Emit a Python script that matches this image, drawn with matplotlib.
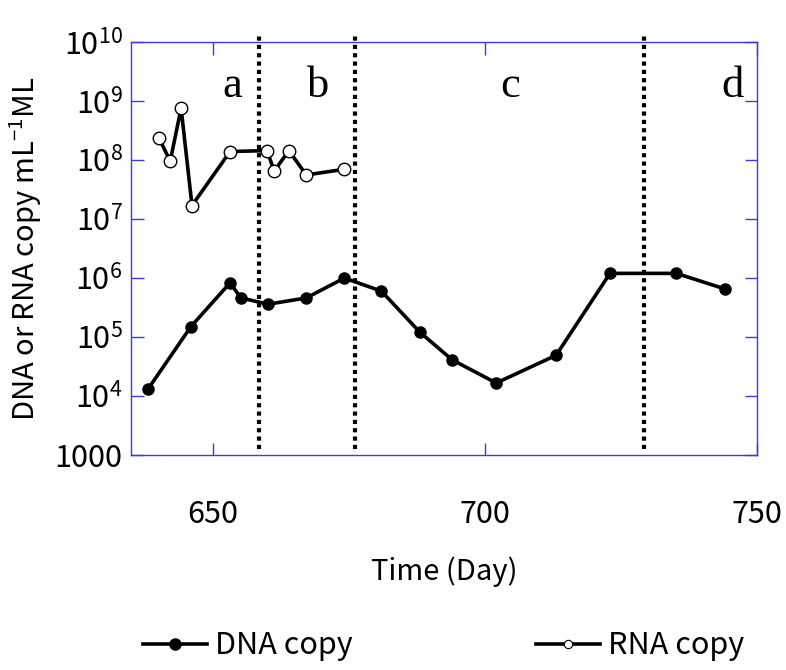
import math
import matplotlib
matplotlib.use("Agg")
import matplotlib.pyplot as plt
from matplotlib.lines import Line2D
from matplotlib.ticker import FixedLocator, FuncFormatter, NullLocator

# DNA copies
dna_day = [638.1, 646.0, 653.2, 655.2, 660.2, 667.2, 674.2, 681.0, 688.1, 694.0, 702.1, 713.1, 723.0, 735.2, 744.2]
dna_copy = [1.3e4, 1.5e5, 8.3e5, 4.6e5, 3.6e5, 4.6e5, 1.0e6, 6.0e5, 1.2e5, 4.1e4, 1.66e4, 4.9e4, 1.2e6, 1.2e6, 6.5e5]

# RNA copies
rna_day = [640.1, 642.2, 644.2, 646.2, 653.2, 660.0, 661.3, 664.0, 667.2, 674.2]
rna_copy = [2.4e8, 9.6e7, 7.6e8, 1.7e7, 1.4e8, 1.45e8, 6.5e7, 1.45e8, 5.6e7, 7.0e7]

# phase boundaries and labels
phase_day = [658.5, 676.2, 729.3]
phase_lbl = ["a", "b", "c", "d"]
phase_lbl_day = [653.6, 669.4, 704.7, 745.6]

xticks = [650, 700, 750]
yticks = [1e3, 1e4, 1e5, 1e6, 1e7, 1e8, 1e9, 1e10]

plt.rcParams["font.family"] = ["Noto Sans CJK JP", "DejaVu Sans"]
plt.rcParams["mathtext.fontset"] = "custom"
plt.rcParams["mathtext.rm"] = "Noto Sans CJK JP"
plt.rcParams["mathtext.it"] = "Noto Sans CJK JP"

blue = "#3a3ae8"

fig = plt.figure(figsize=(7.86, 6.70), dpi=100)
ax = fig.add_axes([0.1667, 0.321, 0.7963, 0.616])

ax.plot(dna_day, dna_copy, color="black", lw=2.6, marker="o", ms=8,
        mfc="black", mec="black", zorder=3)
ax.plot(rna_day, rna_copy, color="black", lw=2.6, marker="o", ms=9,
        mfc="white", mec="black", mew=1.0, zorder=3)

for d in phase_day:
    ax.plot([d, d], [1.25e3, 1.3e10], color="black", lw=3, ls=(0, (1, 1)),
            clip_on=False, zorder=2)

for d, s in zip(phase_lbl_day, phase_lbl):
    ax.text(d, 1.8e9, s, ha="center", va="center", fontsize=32,
            family="Liberation Serif")

ax.set_yscale("log")
ax.set_xlim(635, 750)
ax.set_ylim(1e3, 1e10)

ax.xaxis.set_major_locator(FixedLocator(xticks))
ax.yaxis.set_major_locator(FixedLocator(yticks))
ax.yaxis.set_minor_locator(NullLocator())
ax.xaxis.set_minor_locator(NullLocator())


def yfmt(v, pos):
    if v == 1e3:
        return "1000"
    return r"$10^{%d}$" % round(math.log10(v))


ax.yaxis.set_major_formatter(FuncFormatter(yfmt))

for sp in ax.spines.values():
    sp.set_color(blue)
    sp.set_linewidth(1.0)
ax.tick_params(axis="both", which="major", direction="in", length=9,
               width=1.0, color=blue, top=True, right=True, labelsize=22)
ax.tick_params(axis="x", pad=32)
ax.tick_params(axis="y", pad=6)

ax.set_xlabel("Time (Day)", fontsize=21, labelpad=19)
ax.set_ylabel(r"DNA or RNA copy mL$^{-1}$ML", fontsize=21, labelpad=8)

handles = [
    Line2D([], [], color="black", lw=2.6, marker="o", ms=8, mfc="black", mec="black"),
    Line2D([], [], color="black", lw=2.6, marker="o", ms=6, mfc="white", mec="black", mew=0.8),
]
fig.legend(handles, ["DNA copy", "RNA copy"], loc="lower center",
           bbox_to_anchor=(0.564, -0.028), ncol=2, frameon=False, fontsize=22,
           handlelength=2.1, handletextpad=0.25, columnspacing=6.0)

fig.savefig("out.png", dpi=100)
